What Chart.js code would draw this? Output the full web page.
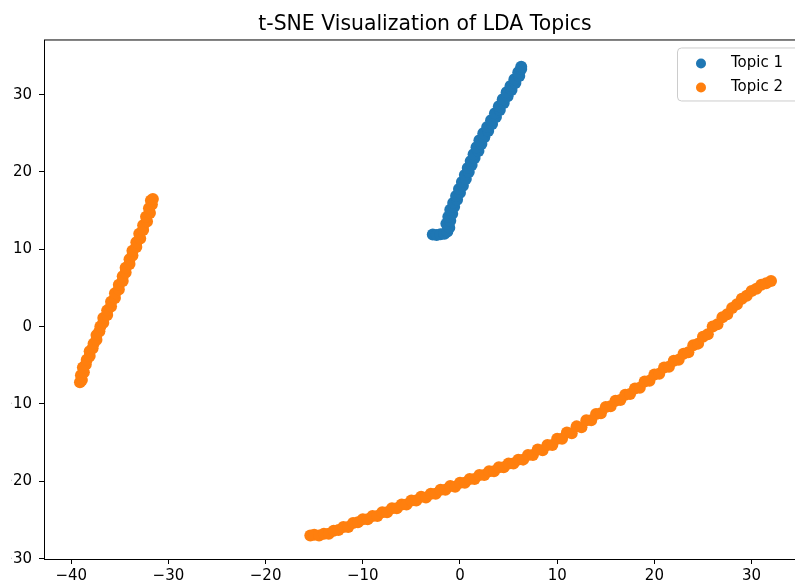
<!DOCTYPE html>
<html>
<head>
<meta charset="utf-8">
<title>t-SNE Visualization of LDA Topics</title>
<script src="https://cdn.jsdelivr.net/npm/chart.js@4.4.1/dist/chart.umd.min.js"></script>
<style>
  html, body { margin: 0; padding: 0; background: #fff; }
  /* the figure is shown cropped a little on the left */
  #view { position: absolute; left: 11px; top: 0; width: 784px; height: 585px; overflow: hidden; }
  #scatter { position: absolute; left: -11px; top: 0; }
</style>
</head>
<body>
<div id="view"><canvas id="scatter" width="820" height="585"></canvas></div>
<script>
const FONT = "'DejaVu Sans', sans-serif";

// Topic 1 (blue cluster)
const topic1X = [-2.8, -2.4, -2.0, -1.6, -1.3, -1.1, -1.4, -1.0, -1.2, -0.8, -1.0, -0.6, -0.7, -0.3, -0.4, 0.0, -0.1, 0.3, 0.2, 0.6,
  0.5, 0.9, 0.8, 1.2, 1.1, 1.5, 1.4, 1.9, 1.7, 2.2, 2.0, 2.5, 2.4, 2.9, 2.8, 3.3, 3.2, 3.7, 3.6, 4.1,
  4.0, 4.5, 4.4, 4.9, 4.8, 5.3, 5.2, 5.7, 5.6, 6.1, 6.0, 6.3, 6.3];
const topic1Y = [11.9, 11.85, 11.95, 12.0, 12.3, 12.8, 13.3, 13.7, 14.2, 14.6, 15.1, 15.5, 16.0, 16.4, 16.9, 17.3, 17.8, 18.2, 18.7, 19.1,
  19.6, 20.0, 20.5, 20.9, 21.4, 21.8, 22.3, 22.7, 23.2, 23.6, 24.1, 24.5, 25.0, 25.3, 25.8, 26.2, 26.7, 27.1, 27.6, 28.0,
  28.5, 28.9, 29.4, 29.8, 30.3, 30.6, 31.1, 31.5, 32.0, 32.4, 32.9, 33.3, 33.6];

// Topic 2 (orange): short strand on the left, long arc along the bottom
const topic2X = [
  -39.1, -38.9, -39.0, -38.7, -38.8, -38.5, -38.4, -38.1, -38.1, -37.8, -37.7, -37.4, -37.4, -37.1, -37.0, -36.7, -36.7, -36.3, -36.3, -35.9,
  -35.9, -35.5, -35.5, -35.1, -35.1, -34.7, -34.7, -34.4, -34.4, -34.0, -34.0, -33.7, -33.7, -33.3, -33.3, -32.9, -33.0, -32.6, -32.6, -32.2,
  -32.3, -31.9, -32.0, -31.7, -31.8, -31.6,
  -15.4, -15.0, -14.5, -14.0, -13.5, -13.0, -12.5, -12.0, -11.5, -11.0, -10.5, -10.0, -9.5, -9.0, -8.5, -8.0, -7.5, -7.0, -6.5, -6.0,
  -5.5, -5.0, -4.5, -4.0, -3.5, -3.0, -2.5, -2.0, -1.5, -1.0, -0.5, 0.0, 0.5, 1.0, 1.5, 2.0, 2.5, 3.0, 3.5, 4.0,
  4.5, 5.0, 5.5, 6.0, 6.5, 7.0, 7.5, 8.0, 8.5, 9.0, 9.5, 10.0, 10.5, 11.0, 11.5, 12.0, 12.5, 13.0, 13.5, 14.0,
  14.5, 15.0, 15.5, 16.0, 16.5, 17.0, 17.5, 18.0, 18.5, 19.0, 19.5, 20.0, 20.5, 21.0, 21.5, 22.0, 22.5, 23.0, 23.5, 24.0,
  24.5, 25.0, 25.5, 26.0, 26.5, 27.0, 27.5, 28.0, 28.5, 29.0, 29.5, 30.0, 30.5, 31.0, 31.5, 32.0];
const topic2Y = [
  -7.2, -6.9, -6.3, -5.9, -5.3, -4.9, -4.3, -3.8, -3.2, -2.8, -2.2, -1.7, -1.1, -0.6, 0.0, 0.5, 1.1, 1.5, 2.1, 2.6,
  3.2, 3.7, 4.3, 4.8, 5.4, 5.9, 6.5, 7.0, 7.6, 8.1, 8.7, 9.2, 9.8, 10.3, 10.9, 11.4, 12.0, 12.5, 13.1, 13.6,
  14.2, 14.7, 15.3, 15.8, 16.3, 16.5,
  -27.0, -26.9, -27.0, -26.8, -26.8, -26.4, -26.3, -25.9, -25.9, -25.4, -25.3, -24.9, -24.9, -24.5, -24.5, -24.0, -24.0, -23.5, -23.5, -23.0,
  -23.0, -22.5, -22.5, -22.0, -22.1, -21.6, -21.6, -21.1, -21.1, -20.6, -20.7, -20.2, -20.2, -19.7, -19.7, -19.2, -19.2, -18.7, -18.7, -18.2,
  -18.2, -17.7, -17.7, -17.2, -17.2, -16.6, -16.6, -15.9, -16.0, -15.3, -15.3, -14.5, -14.5, -13.7, -13.8, -12.9, -13.0, -12.1, -12.1, -11.3,
  -11.2, -10.4, -10.3, -9.6, -9.5, -8.8, -8.7, -8.0, -7.9, -7.1, -7.0, -6.2, -6.1, -5.3, -5.2, -4.4, -4.3, -3.5, -3.3, -2.4,
  -2.2, -1.3, -1.0, 0.0, 0.3, 1.2, 1.6, 2.4, 2.9, 3.6, 4.0, 4.6, 4.9, 5.4, 5.6, 5.9];

const xTickValues = [-40, -30, -20, -10, 0, 10, 20, 30];
const yTickValues = [-30, -20, -10, 0, 10, 20, 30];

const toPoints = (xs, ys) => xs.map((x, i) => ({ x: x, y: ys[i] }));
const fmtTick = (v) => (v < 0 ? "\u2212" + Math.abs(v) : String(v));

// axes frame (all four spines)
const frame = {
  id: "frame",
  afterDraw(chart) {
    const { ctx, chartArea: a } = chart;
    ctx.save();
    ctx.strokeStyle = "#000";
    ctx.lineWidth = 1;
    ctx.strokeRect(a.left + 0.5, a.top - 0.5, a.right - a.left, a.bottom - a.top + 1);
    ctx.restore();
  },
};

// legend box in the upper right corner of the axes
const cornerLegend = {
  id: "cornerLegend",
  afterDraw(chart) {
    const { ctx, chartArea: a } = chart;
    const right = a.right - 7, top = a.top + 7, w = 122, h = 53;
    const left = right - w;
    ctx.save();
    ctx.beginPath();
    ctx.roundRect(left + 0.5, top + 0.5, w, h, 4);
    ctx.fillStyle = "rgba(255,255,255,0.8)";
    ctx.fill();
    ctx.strokeStyle = "#cccccc";
    ctx.lineWidth = 1;
    ctx.stroke();
    ctx.font = "15px " + FONT;
    ctx.textBaseline = "middle";
    ctx.textAlign = "left";
    chart.data.datasets.forEach((ds, i) => {
      const y = top + 16 + i * 24;
      ctx.beginPath();
      ctx.arc(left + 24, y, 5, 0, Math.PI * 2);
      ctx.fillStyle = ds.backgroundColor;
      ctx.fill();
      ctx.fillStyle = "#000";
      ctx.fillText(ds.label, left + 54, y);
    });
    ctx.restore();
  },
};

new Chart(document.getElementById("scatter"), {
  type: "scatter",
  data: {
    datasets: [
      {
        label: "Topic 1",
        data: toPoints(topic1X, topic1Y),
        backgroundColor: "#1f77b4",
        borderColor: "#1f77b4",
        pointRadius: 6,
        borderWidth: 0,
      },
      {
        label: "Topic 2",
        data: toPoints(topic2X, topic2Y),
        backgroundColor: "#ff7f0e",
        borderColor: "#ff7f0e",
        pointRadius: 6,
        borderWidth: 0,
      },
    ],
  },
  options: {
    responsive: false,
    animation: false,
    layout: { padding: { right: 14 } },
    plugins: {
      legend: { display: false },
      tooltip: { enabled: false },
      title: {
        display: true,
        text: "t-SNE Visualization of LDA Topics",
        fullSize: false,
        color: "#000",
        font: { family: FONT, size: 20.4, weight: "normal" },
        padding: { top: 12, bottom: 4 },
      },
    },
    scales: {
      x: {
        type: "linear",
        min: -42.8,
        max: 35.6,
        afterBuildTicks: (s) => { s.ticks = xTickValues.map((v) => ({ value: v })); },
        afterFit: (s) => { s.height = 26; },
        border: { display: false },
        grid: { drawOnChartArea: false, drawTicks: true, tickLength: 5, tickColor: "#000", lineWidth: 1 },
        ticks: { callback: fmtTick, color: "#000", font: { family: FONT, size: 15 }, padding: 3, autoSkip: false, maxRotation: 0 },
      },
      y: {
        type: "linear",
        min: -30.05,
        max: 37.0,
        afterBuildTicks: (s) => { s.ticks = yTickValues.map((v) => ({ value: v })); },
        afterFit: (s) => { s.width = 44; },
        border: { display: false },
        grid: { drawOnChartArea: false, drawTicks: true, tickLength: 5, tickColor: "#000", lineWidth: 1 },
        ticks: { callback: fmtTick, color: "#000", font: { family: FONT, size: 15 }, padding: 7, autoSkip: false },
      },
    },
  },
  plugins: [frame, cornerLegend],
});
</script>
</body>
</html>
